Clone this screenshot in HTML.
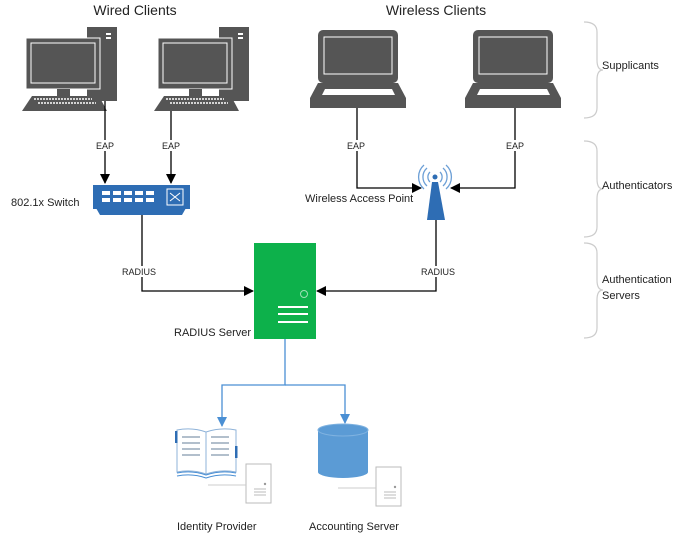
<!DOCTYPE html><html><head><style>body{margin:0;background:#fff}svg{display:block}text{font-family:"Liberation Sans",sans-serif;fill:#222}</style></head><body>
<svg width="693" height="540" viewBox="0 0 693 540">
<defs>
<marker id="a" markerWidth="10" markerHeight="10" refX="9" refY="5" orient="auto" markerUnits="userSpaceOnUse"><path d="M0,0 L10,5 L0,10z" fill="#000"/></marker>
<marker id="b" markerWidth="10" markerHeight="10" refX="9" refY="5" orient="auto" markerUnits="userSpaceOnUse"><path d="M0,0 L10,5 L0,10z" fill="#4a8fd4"/></marker>
<g id="pc">
<rect x="61" y="0" width="30" height="74" fill="#555"/>
<rect x="80" y="6" width="5" height="2" fill="#fff"/><rect x="80" y="10" width="5" height="2" fill="#fff"/>
<rect x="0" y="11" width="74" height="51" fill="#555" stroke="#fff" stroke-width="1"/>
<rect x="5" y="16" width="64" height="40" fill="none" stroke="#fff" stroke-width="1"/>
<rect x="31" y="62" width="13" height="7" fill="#555"/>
<path d="M6,69 L73,69 L81,84 L-4,84z" fill="#555"/>
<path d="M8,72 H66 M12,76 H70" stroke="#fff" stroke-width="1.5" stroke-dasharray="2,1"/>
</g>
<g id="lap">
<rect x="8" y="0" width="80" height="53" rx="5" fill="#555"/>
<rect x="14" y="7" width="68" height="37" fill="none" stroke="#fff" stroke-width="1"/>
<path d="M8,53 H88 L96,68 V78 H0 V68z" fill="#555"/>
<path d="M12,65 L15,59 H82 L85,65z" fill="#fff"/>
</g>
<g id="sv"><rect x="0" y="0" width="25" height="39" fill="#fff" stroke="#bbb"/><circle cx="19" cy="20" r="1.2" fill="#999"/><path d="M8,25h12M8,28h12M8,31h12" stroke="#bbb"/><path d="M-38,21h38" stroke="#ccc"/></g>
</defs>
<text x="135" y="15" font-size="14" text-anchor="middle">Wired Clients</text>
<text x="436" y="15" font-size="14" text-anchor="middle">Wireless Clients</text>
<use href="#pc" x="26" y="27"/><use href="#pc" x="158" y="27"/>
<use href="#lap" x="310" y="30"/><use href="#lap" x="465" y="30"/>
<g stroke="#000" stroke-width="1.3" fill="none">
<path d="M105,101 V183" marker-end="url(#a)"/><path d="M171,111 V183" marker-end="url(#a)"/>
<path d="M357,108 V188 H421" marker-end="url(#a)"/><path d="M515,108 V188 H451" marker-end="url(#a)"/>
<path d="M142,215 V291 H253" marker-end="url(#a)"/><path d="M436,220 V291 H317" marker-end="url(#a)"/>
</g>
<g font-size="9" text-anchor="middle"><rect x="94" y="140" width="22" height="11" fill="#fff"/><text x="105" y="149">EAP</text>
<rect x="160" y="140" width="22" height="11" fill="#fff"/><text x="171" y="149">EAP</text>
<rect x="346" y="140" width="22" height="11" fill="#fff"/><text x="356" y="149">EAP</text>
<rect x="504" y="140" width="22" height="11" fill="#fff"/><text x="515" y="149">EAP</text>
<rect x="120" y="266" width="44" height="11" fill="#fff"/><text x="139" y="275">RADIUS</text>
<rect x="420" y="266" width="40" height="11" fill="#fff"/><text x="438" y="275">RADIUS</text></g>
<!-- switch -->
<path d="M96,208 H186 L182,215 H100z" fill="#2e6db4"/>
<rect x="93" y="185" width="97" height="24" fill="#2e6db4"/>
<g fill="#fff"><rect x="102" y="191" width="8" height="4"/><rect x="113" y="191" width="8" height="4"/><rect x="124" y="191" width="8" height="4"/><rect x="135" y="191" width="8" height="4"/><rect x="146" y="191" width="8" height="4"/>
<rect x="102" y="198" width="8" height="4"/><rect x="113" y="198" width="8" height="4"/><rect x="124" y="198" width="8" height="4"/><rect x="135" y="198" width="8" height="4"/><rect x="146" y="198" width="8" height="4"/></g>
<rect x="167" y="189" width="16" height="16" fill="none" stroke="#fff"/><path d="M170,193 L180,201 M170,201 L180,193" stroke="#fff"/>
<text x="11" y="206" font-size="11">802.1x Switch</text>
<!-- AP -->
<path d="M432,182 L438,182 L445,220 L427,220z" fill="#2e6db4"/>
<circle cx="435" cy="177" r="2.5" fill="#2e6db4"/>
<g fill="none" stroke="#6c9fd6" stroke-width="1.3"><path d="M430,172 a7,7 0 0 0 0,10 M440,172 a7,7 0 0 1 0,10 M427,168 a12,12 0 0 0 0,18 M443,168 a12,12 0 0 1 0,18 M424,165 a16,16 0 0 0 0,24 M446,165 a16,16 0 0 1 0,24"/></g>
<text x="305" y="202" font-size="11">Wireless Access Point</text>
<!-- braces -->
<g fill="none" stroke="#ccc" stroke-width="1.2"><path d="M584,22 q13,0 13,10 V60 q0,10 6,10 q-6,0 -6,10 V108 q0,10 -13,10"/>
<path d="M584,141 q13,0 13,10 V179 q0,10 6,10 q-6,0 -6,10 V227 q0,10 -13,10"/>
<path d="M584,243 q13,0 13,10 V280 q0,10 6,10 q-6,0 -6,10 V328 q0,10 -13,10"/></g>
<g font-size="11"><text x="602" y="69">Supplicants</text><text x="602" y="189">Authenticators</text><text x="602" y="283">Authentication</text><text x="602" y="299">Servers</text></g>
<!-- radius server -->
<rect x="254" y="243" width="62" height="96" fill="#0db14b"/>
<circle cx="304" cy="294" r="3.5" fill="none" stroke="#9fe0b5"/>
<path d="M278,307h30M278,314h30M278,322h30" stroke="#fff" stroke-width="2"/>
<text x="174" y="336" font-size="11">RADIUS Server</text>
<g stroke="#4a8fd4" stroke-width="1.3" fill="none"><path d="M285,339 V385 H222 V426" marker-end="url(#b)"/><path d="M285,385 H345 V423" marker-end="url(#b)"/></g>
<!-- book -->
<path d="M177,430 q15,-3 29,2 q15,-5 30,-2 V472 q-15,-3 -30,2 q-14,-5 -29,-2z" fill="#fff" stroke="#8fb3d9"/>
<path d="M206,432 V474" stroke="#8fb3d9"/>
<g stroke="#9ab" stroke-width="1.5"><path d="M182,437h18M182,443h18M182,449h18M182,455h18M211,437h18M211,443h18M211,449h18M211,455h18"/></g>
<path d="M177,473 q15,-3 29,2 q15,-5 30,-2 M177,476 q15,-3 29,2 q15,-5 30,-2" stroke="#4a8fd4" fill="none"/>
<rect x="175" y="431" width="2.5" height="12" fill="#2e6db4"/><rect x="235" y="446" width="2.5" height="12" fill="#2e6db4"/>
<use href="#sv" x="246" y="464"/>
<!-- cylinder -->
<path d="M318,430 V472 a25,6 0 0 0 50,0 V430z" fill="#5b9bd5"/>
<ellipse cx="343" cy="430" rx="25" ry="6" fill="#5b9bd5" stroke="#7fb2e0"/>
<use href="#sv" x="376" y="467"/>
<text x="177" y="530" font-size="11">Identity Provider</text>
<text x="309" y="530" font-size="11">Accounting Server</text>
</svg></body></html>
